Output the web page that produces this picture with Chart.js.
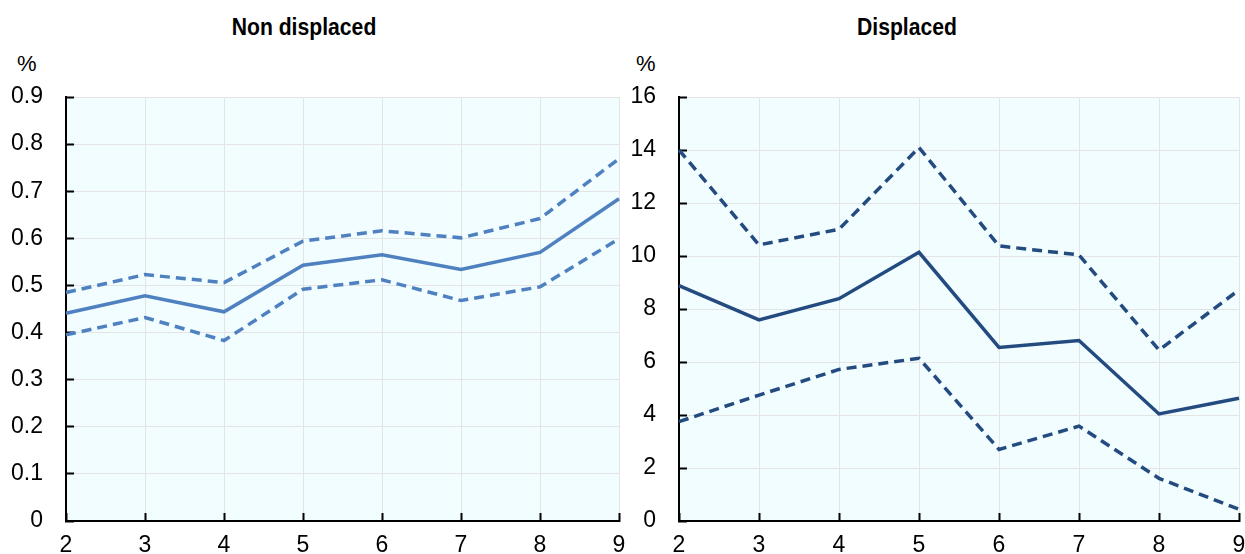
<!DOCTYPE html>
<html>
<head>
<meta charset="utf-8">
<script src="https://cdn.jsdelivr.net/npm/chart.js@4.4.1/dist/chart.umd.min.js"></script>
<style>
  html, body { margin: 0; padding: 0; background: #fff; }
  body { width: 1245px; height: 554px; position: relative; overflow: hidden;
         font-family: 'Liberation Sans Narrow', 'Arial Narrow', 'Liberation Sans', sans-serif; }
  canvas { position: absolute; top: 0; display: block; }
  .title { position: absolute; top: 12px; font-weight: bold; font-size: 23px; color: #000;
           transform: translateX(-50%) scaleX(0.92); white-space: nowrap; line-height: 30px; }
  .unit { position: absolute; top: 50px; font-size: 22px; color: #000; line-height: 28px; }
</style>
</head>
<body>
<div class="title" style="left:304px">Non displaced</div>
<div class="title" style="left:907px">Displaced</div>
<div class="unit" style="left:17px">%</div>
<div class="unit" style="left:636px">%</div>
<canvas id="left" width="625" height="554" style="left:0; width:625px; height:554px"></canvas>
<canvas id="right" width="620" height="554" style="left:625px; width:620px; height:554px"></canvas>
<script>
// x categories shared by both panels
const categories = ['2', '3', '4', '5', '6', '7', '8', '9'];

// Non displaced: estimate with lower and upper bounds (%)
const nonDisplacedMid   = [0.441, 0.478, 0.444, 0.543, 0.565, 0.534, 0.570, 0.684];
const nonDisplacedUpper = [0.485, 0.523, 0.506, 0.594, 0.616, 0.601, 0.642, 0.769];
const nonDisplacedLower = [0.395, 0.432, 0.383, 0.492, 0.512, 0.468, 0.497, 0.599];

// Displaced: estimate with lower and upper bounds (%)
const displacedMid   = [8.88, 7.59, 8.39, 10.14, 6.55, 6.81, 4.04, 4.63];
const displacedUpper = [14.0, 10.42, 11.01, 14.09, 10.38, 10.04, 6.45, 8.72];
const displacedLower = [3.75, 4.75, 5.72, 6.14, 2.70, 3.58, 1.61, 0.44];

const FONT = "'Liberation Sans Narrow', 'Arial Narrow', 'Liberation Sans', sans-serif";

const plotBackground = {
  id: 'plotBackground',
  beforeDraw(chart) {
    const { ctx, chartArea: a } = chart;
    ctx.save();
    ctx.fillStyle = '#f1fdff';
    ctx.fillRect(a.left, a.top, a.right - a.left, a.bottom - a.top);
    ctx.restore();
  }
};

function lineSet(data, color, dashed) {
  return {
    data,
    borderColor: color,
    borderWidth: 3.5,
    borderDash: dashed ? [10, 6] : [],
    pointRadius: 0,
    tension: 0,
    fill: false
  };
}

function makeChart(id, color, mid, upper, lower, yMax, yStep, yWidth) {
  return new Chart(document.getElementById(id), {
    type: 'line',
    data: {
      labels: categories,
      datasets: [
        lineSet(upper, color, true),
        lineSet(lower, color, true),
        lineSet(mid, color, false)
      ]
    },
    options: {
      responsive: false,
      devicePixelRatio: 1,
      animation: false,
      layout: { padding: { top: 97, right: 6, left: 0, bottom: 0 } },
      plugins: { legend: { display: false }, tooltip: { enabled: false }, title: { display: false } },
      scales: {
        x: {
          offset: false,
          grid: { color: '#e4e4e4', lineWidth: 1, tickColor: '#000', tickWidth: 2, tickLength: -8 },
          border: { display: true, color: '#000', width: 2 },
          ticks: { color: '#000', font: { family: FONT, size: 23 }, padding: 19, maxRotation: 0, autoSkip: false },
          afterFit(scale) {
            scale.height = 33;
            scale.paddingLeft = 0;
            scale.paddingRight = 0;
          }
        },
        y: {
          min: 0,
          max: yMax,
          grid: { color: '#e4e4e4', lineWidth: 1, tickColor: '#000', tickWidth: 2, tickLength: -8 },
          border: { display: true, color: '#000', width: 2 },
          ticks: { color: '#000', font: { family: FONT, size: 23 }, stepSize: yStep, padding: 31 },
          afterFit(scale) {
            scale.width = yWidth;
            scale.paddingTop = 0;
            scale.paddingBottom = 0;
          }
        }
      }
    },
    plugins: [plotBackground]
  });
}

makeChart('left', '#4f81c0', nonDisplacedMid, nonDisplacedUpper, nonDisplacedLower, 0.9, 0.1, 66);
makeChart('right', '#244b80', displacedMid, displacedUpper, displacedLower, 16, 2, 54);
</script>
</body>
</html>
